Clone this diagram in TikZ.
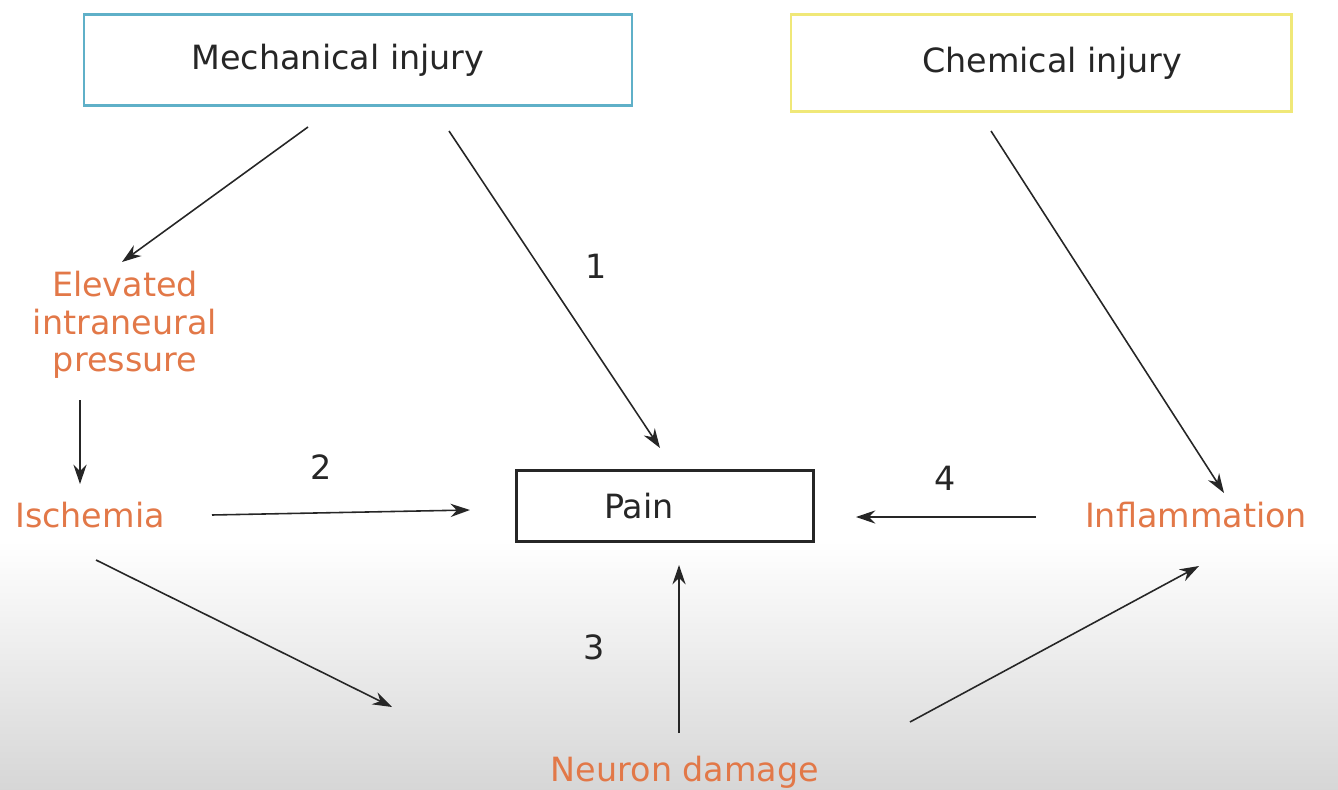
\documentclass[tikz,border=0pt]{standalone}
\usepackage{fontspec}
\setmainfont{DejaVu Sans}
\usepackage{xcolor}
\usetikzlibrary{calc,arrows.meta,positioning}

\definecolor{cause}{RGB}{226,120,72}
\definecolor{mechline}{RGB}{95,176,200}
\definecolor{chemline}{RGB}{240,232,120}

\begin{document}
\begin{tikzpicture}[x=0.02cm,y=-0.02cm,
  font=\fontsize{19}{21.5}\selectfont]
  \tikzset{ box/.style={draw,line width=1.2pt,text=black!85,inner sep=0pt},
    txt/.style={text=cause,align=center,inner sep=0pt},
    arr/.style={-{Stealth[length=11pt,width=7.5pt]},line width=0.9pt,black!85},
    num/.style={text=black!85,inner sep=0pt},
  }
  \useasboundingbox (0,0) rectangle (1338,790);
  \shade[top color=white,bottom color=black!16] (0,540) rectangle (1338,790);

  \node[box,draw=mechline,minimum width=10.96cm,minimum height=1.82cm] (mech) at (358,60) {Mechanical injury\hspace*{0.8cm}};
  \node[box,draw=chemline,minimum width=10.02cm,minimum height=1.94cm] (chem) at (1041,63) {\hspace*{0.44cm}\raisebox{-0.08cm}{Chemical injury}};
  \node[box,draw=black!85,minimum width=5.94cm,minimum height=1.42cm] (pain) at (665,506) {Pain\hspace*{1.04cm}};
  \node[txt] (elev) at (125,325) {Elevated\\intraneural\\pressure};
  \node[txt] (isch) at (90,515) {Ischemia};
  \node[txt] (infl) at (1196,515) {Inflammation};
  \node[txt] (neur) at (685,772) {Neuron damage};

  % the arrows between the nodes
  \draw[arr] ($(mech)+(-50,67)$) -- ($(elev)+(-3,-63)$);
  \draw[arr] ($(mech)+(91,71)$) -- ($(pain)+(-5,-58)$);
  \draw[arr] ($(chem)+(-50,68)$) -- ($(infl)+(28,-22)$);
  \draw[arr] ($(elev)+(-45,75)$) -- ($(isch)+(-10,-31)$);
  \draw[arr] ($(isch)+(122,0)$) -- ($(pain)+(-195,4)$);
  \draw[arr] ($(infl)+(-160,2)$) -- ($(pain)+(191,11)$);
  \draw[arr] ($(isch)+(6,45)$) -- ($(neur)+(-293,-65)$);
  \draw[arr] ($(neur)+(-6,-39)$) -- ($(pain)+(14,59)$);
  \draw[arr] ($(neur)+(225,-50)$) -- ($(infl)+(3,51)$);

  \node[num] (n1) at (596,266) {1};
  \node[num] (n2) at (321,467) {2};
  \node[num] (n3) at (594,647) {3};
  \node[num] (n4) at (945,478) {4};
\end{tikzpicture}
\end{document}
